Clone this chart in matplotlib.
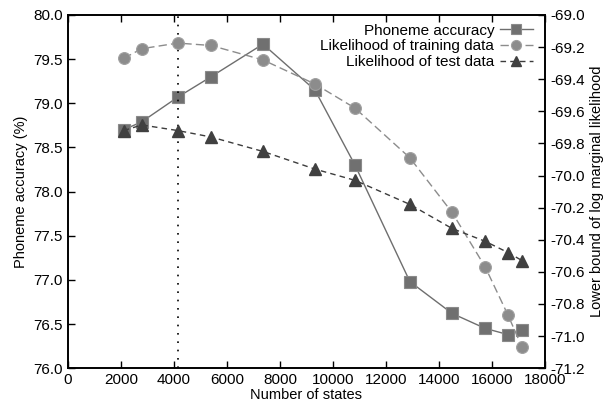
import numpy as np
import matplotlib.pyplot as plt
from matplotlib.ticker import FormatStrFormatter

plt.rcParams['font.family'] = ['Liberation Sans', 'DejaVu Sans']
plt.rcParams['font.size'] = 11

# Data
states = [2110, 2790, 4150, 5400, 7360, 9320, 10830, 12900, 14490, 15740, 16600, 17130]
phoneme_acc = [78.70, 78.79, 79.07, 79.30, 79.67, 79.15, 78.30, 76.98, 76.62, 76.45, 76.38, 76.43]
lik_train = [-69.27, -69.21, -69.175, -69.19, -69.28, -69.43, -69.58, -69.89, -70.23, -70.57, -70.87, -71.07]
lik_test = [-69.72, -69.685, -69.72, -69.76, -69.85, -69.96, -70.03, -70.18, -70.33, -70.41, -70.48, -70.53]
best_states = 4150

fig = plt.figure(figsize=(6.16, 4.05), dpi=100)
ax = fig.add_axes([0.110, 0.091, 0.775, 0.872])
ax2 = ax.twinx()

l1, = ax.plot(states, phoneme_acc, '-', color='#6e6e6e', lw=1.0,
              marker='s', ms=8, mfc='#707070', mec='#8a8a8a', mew=0.8,
              label='Phoneme accuracy')
l2, = ax2.plot(states, lik_train, '--', color='#8c8c8c', lw=1.0, dashes=(6, 3),
               marker='o', ms=8.5, mfc='#8c8c8c', mec='#a0a0a0', mew=0.8,
               label='Likelihood of training data')
l3, = ax2.plot(states, lik_test, '--', color='#3c3c3c', lw=1.0, dashes=(4, 3),
               marker='^', ms=8.5, mfc='#404040', mec='#404040',
               label='Likelihood of test data')
ax.axvline(best_states, color='black', ls=(0, (1, 4)), lw=1.2)

ax.set_xlim(0, 18000)
ax.set_ylim(76.0, 80.0)
ax2.set_ylim(-71.2, -69.0)
ax.set_xticks(np.arange(0, 18001, 2000))
ax.set_yticks(np.arange(76.0, 80.01, 0.5))
ax2.set_yticks(np.arange(-71.2, -68.99, 0.2))
ax.yaxis.set_major_formatter(FormatStrFormatter('%.1f'))
ax2.yaxis.set_major_formatter(FormatStrFormatter('%.1f'))

ax.tick_params(direction='in', top=True, length=5, width=1)
ax2.tick_params(direction='in', length=5, width=1)
for a in (ax, ax2):
    for s in a.spines.values():
        s.set_linewidth(1.2)

ax.set_xlabel('Number of states', labelpad=1, fontsize=10.5)
ax.set_ylabel('Phoneme accuracy (%)', fontsize=10.5)
ax2.set_ylabel('Lower bound of log marginal likelihood', fontsize=10.5)

ax2.legend(handles=[l1, l2, l3], loc='upper right', frameon=False,
           markerfirst=False, handlelength=2.2, labelspacing=0.1,
           borderaxespad=0, borderpad=0, handletextpad=0.35, markerscale=0.85,
           fontsize=11, bbox_to_anchor=(0.975, 0.975))

fig.savefig('out.png', dpi=100)
